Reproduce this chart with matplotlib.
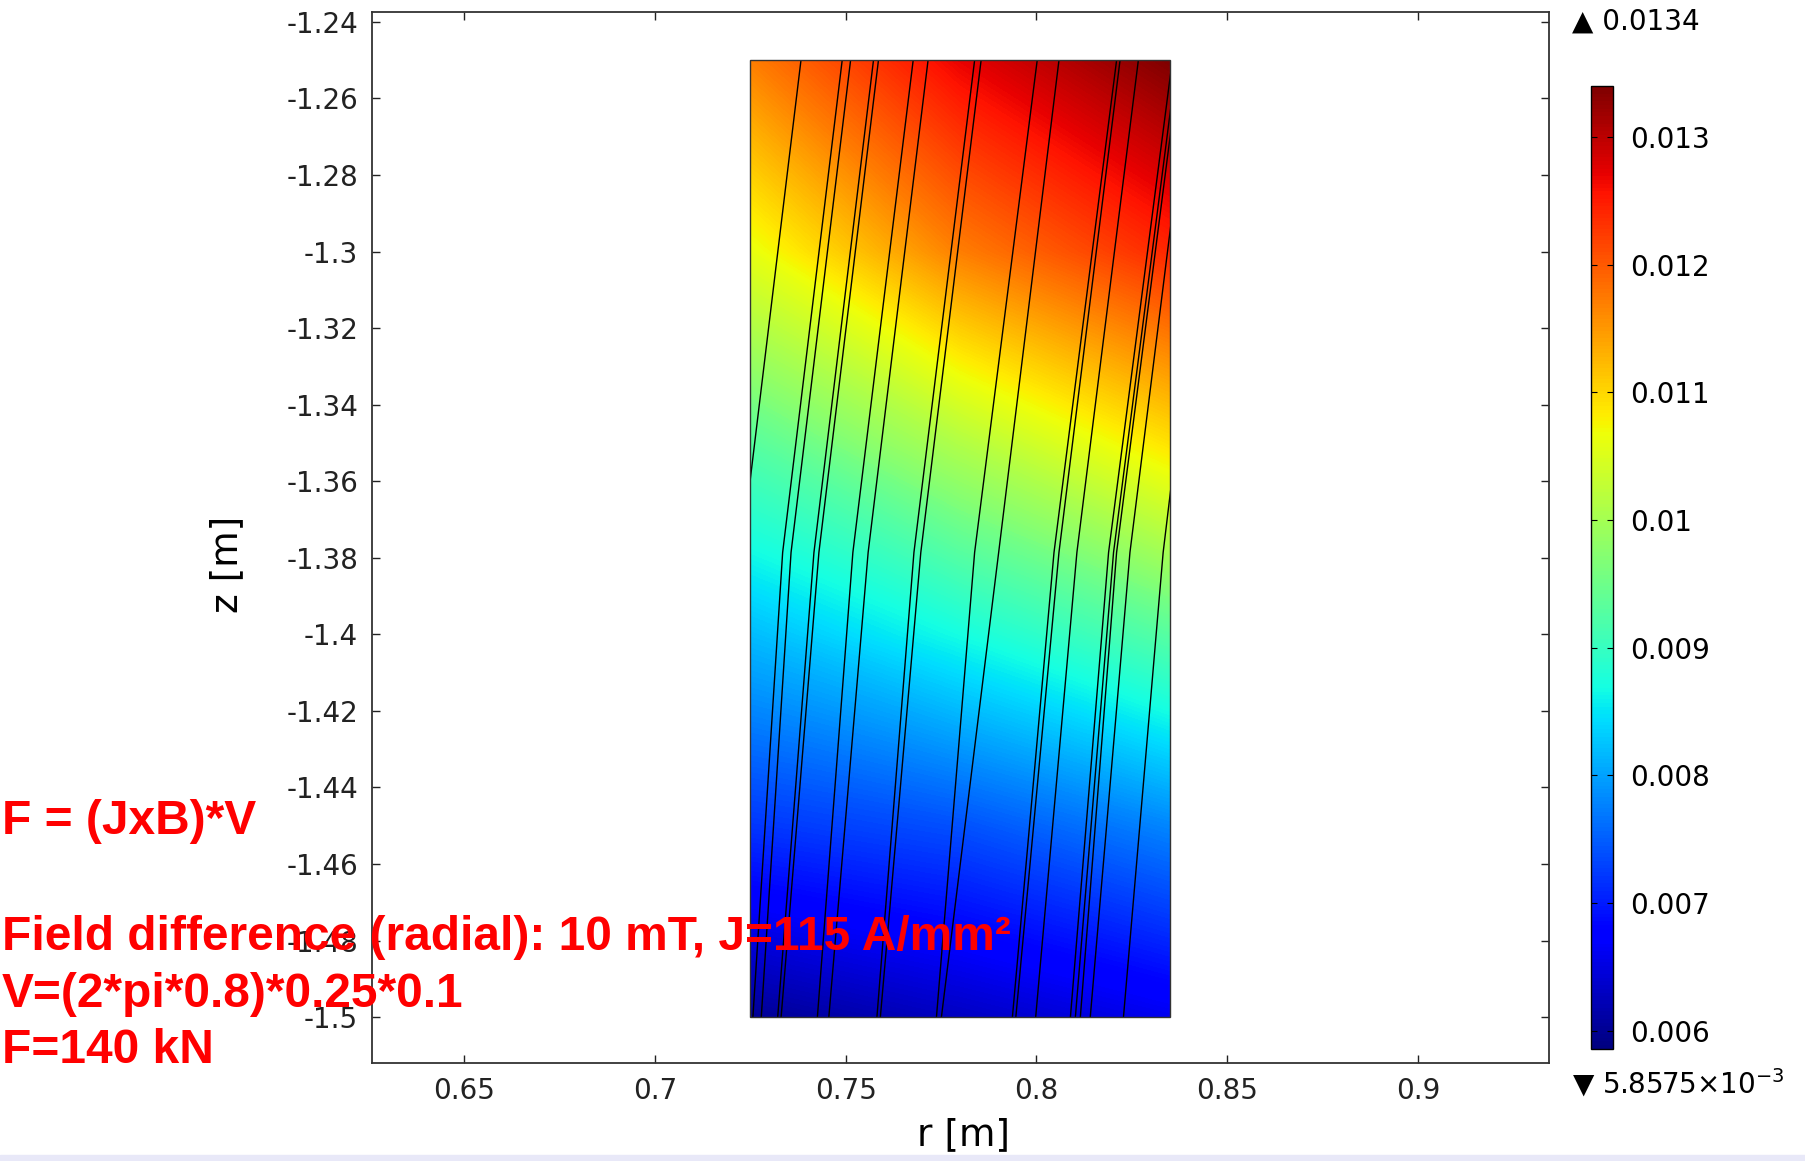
import matplotlib
import numpy as np

matplotlib.use("Agg")
import matplotlib.pyplot as plt
from matplotlib.colors import Normalize
from matplotlib.patches import Rectangle
from matplotlib.ticker import FormatStrFormatter, MultipleLocator

# |B| difference over the coil cross-section [T], sampled on a coarse r-z grid
r_nodes = [0.725, 0.78, 0.835]
z_nodes = [-1.5, -1.45, -1.40, -1.35, -1.30, -1.25]
b_inner = [0.0060, 0.0072, 0.0082, 0.0093, 0.0106, 0.0117]
b_centre = [0.0063, 0.0074, 0.0087, 0.0101, 0.0117, 0.0127]
b_outer = [0.0066, 0.0078, 0.0093, 0.0109, 0.0124, 0.0134]
b_min, b_max = 5.8575e-3, 0.0134

# flux lines: radius at the top, middle and bottom of the coil block
line_z = [-1.25, -1.3786, -1.5]
line_r_top = [0.7383, 0.7491, 0.7513, 0.7573, 0.7586, 0.7677, 0.7716, 0.7838, 0.7855, 0.8002,
              0.8059, 0.8210, 0.8219, 0.8267, 0.8356, 0.8368, 0.8376, 0.8406, 0.8487]
line_r_mid = [0.7227, 0.7335, 0.7357, 0.7417, 0.7430, 0.7519, 0.7559, 0.7679, 0.7697, 0.7838,
              0.7901, 0.8046, 0.8059, 0.8106, 0.8189, 0.8202, 0.8210, 0.8245, 0.8332]
line_r_bot = [0.7154, 0.7257, 0.7279, 0.7322, 0.7331, 0.7426, 0.7456, 0.7582, 0.7591, 0.7738,
              0.7751, 0.7937, 0.7946, 0.7998, 0.8089, 0.8102, 0.8115, 0.8141, 0.8228]

cbar_ticks = [0.006, 0.007, 0.008, 0.009, 0.01, 0.011, 0.012, 0.013]

notes = [
    ("F = (JxB)*V", 834),
    ("Field difference (radial): 10 mT, J=115 A/mm\u00b2", 950),
    ("V=(2*pi*0.8)*0.25*0.1", 1007),
    ("F=140 kN", 1063),
]

W, H = 1806, 1161
plt.rcParams["axes.unicode_minus"] = False
plt.rcParams["font.family"] = "DejaVu Sans"

fig = plt.figure(figsize=(W / 100, H / 100), dpi=100)
ax = fig.add_axes([372 / W, 1 - 1063 / H, (1549 - 372) / W, (1063 - 12) / H])

R, Z = np.meshgrid(r_nodes, z_nodes)
B = np.column_stack([b_inner, b_centre, b_outer])
norm = Normalize(vmin=b_min, vmax=b_max)
ax.contourf(R, Z, B, levels=np.linspace(b_min, b_max, 256), cmap="jet", norm=norm,
            antialiased=False)

block = Rectangle((r_nodes[0], z_nodes[0]), r_nodes[-1] - r_nodes[0], z_nodes[-1] - z_nodes[0],
                  fill=False, ec="#333333", lw=1.0, zorder=4)
ax.add_patch(block)

for rt, rm, rb in zip(line_r_top, line_r_mid, line_r_bot):
    (ln,) = ax.plot([rt, rm, rb], line_z, color="black", lw=1.0, zorder=3)
    ln.set_clip_path(block)

ax.set_xlim(0.6259, 0.9343)
ax.set_ylim(-1.512, -1.2374)
ax.xaxis.set_major_locator(MultipleLocator(0.05))
ax.yaxis.set_major_locator(MultipleLocator(0.02))
ax.xaxis.set_major_formatter(FormatStrFormatter("%g"))
ax.yaxis.set_major_formatter(FormatStrFormatter("%g"))
ax.tick_params(direction="in", length=6, width=1.0, top=True, right=True,
               labelsize=20, pad=10, colors="#222222")
for sp in ax.spines.values():
    sp.set_color("#333333")
    sp.set_linewidth(1.3)

fig.text(964 / W, 1 - 1135 / H, "r [m]", fontsize=27, ha="center", va="center")
fig.text(227 / W, 1 - 564 / H, "z [m]", fontsize=27, ha="center", va="center", rotation=90)

cax = fig.add_axes([1591 / W, 1 - 1049 / H, (1613 - 1591) / W, (1049 - 86) / H])
sm = plt.cm.ScalarMappable(norm=norm, cmap="jet")
cb = fig.colorbar(sm, cax=cax, ticks=cbar_ticks)
cb.ax.yaxis.set_major_formatter(FormatStrFormatter("%g"))
cb.ax.tick_params(direction="in", length=4, width=0.8, left=True, right=True,
                  labelsize=20, pad=12)
cb.outline.set_linewidth(1.0)

fig.text(1572 / W, 1 - 22 / H, "\u25b2 %g" % b_max, fontsize=20, ha="left", va="center")
fig.text(1572 / W, 1 - 1083 / H, "\u25bc 5.8575\u00d710$^{-3}$", fontsize=20,
         ha="left", va="center")

for txt, base in notes:
    fig.text(2 / W, 1 - base / H, txt, fontsize=34.5, fontweight="bold", color="red",
             family="Liberation Sans", ha="left", va="baseline", zorder=10)

fig.patches.append(Rectangle((0, 0), 1, 6 / H, transform=fig.transFigure,
                             color="#e8e8f8", zorder=0))

fig.savefig("out.png", dpi=100)
plt.close(fig)
